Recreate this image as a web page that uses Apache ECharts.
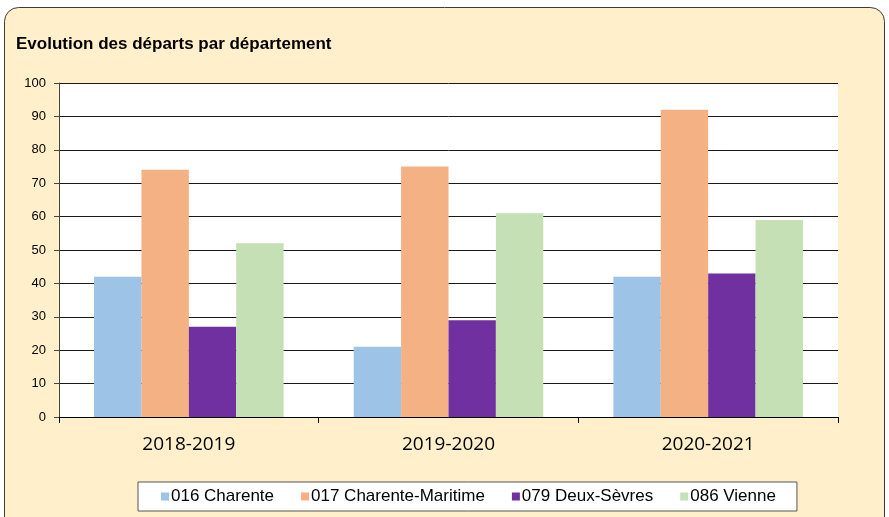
<!DOCTYPE html>
<html>
<head>
<meta charset="utf-8">
<script src="https://cdn.jsdelivr.net/npm/echarts@6/dist/echarts.min.js"></script>
<style>
  html, body { margin: 0; padding: 0; background: #ffffff; }
  #chart { width: 889px; height: 517px; }
</style>
</head>
<body>
<div id="chart"></div>
<script>
// School years shown on the x axis
const years = ['2018-2019', '2019-2020', '2020-2021'];

// Departures per department
const charente = [42, 21, 42];
const charenteMaritime = [74, 75, 92];
const deuxSevres = [27, 29, 43];
const vienne = [52, 61, 59];

const seriesNames = ['016 Charente', '017 Charente-Maritime', '079 Deux-Sèvres', '086 Vienne'];
const seriesColors = ['#9DC3E6', '#F4B183', '#7030A0', '#C5E0B4'];
const seriesValues = [charente, charenteMaritime, deuxSevres, vienne];

const chart = echarts.init(document.getElementById('chart'), null, { renderer: 'canvas' });

chart.setOption({
  backgroundColor: '#ffffff',
  animation: false,
  graphic: [{
    type: 'rect',
    z: -10,
    silent: true,
    shape: { x: 4.5, y: 7.5, width: 880, height: 530, r: 14 },
    style: { fill: '#FFF0CB', stroke: '#3a3a3a', lineWidth: 1 }
  }, {
    type: 'rect',
    z: -5,
    silent: true,
    shape: { x: 59, y: 83, width: 779, height: 334 },
    style: { fill: '#ffffff' }
  }],
  title: {
    text: 'Evolution des départs par département',
    left: 11,
    top: 31,
    textStyle: { fontFamily: 'Liberation Sans, Arial', fontSize: 17, fontWeight: 'bold', color: '#000' }
  },
  legend: {
    data: seriesNames,
    bottom: 6,
    left: 138,
    itemWidth: 8,
    itemHeight: 8,
    itemGap: 27,
    icon: 'rect',
    padding: [6, 21, 6, 23],
    backgroundColor: '#ffffff',
    borderColor: '#555',
    borderWidth: 1,
    textStyle: { fontFamily: 'Liberation Sans, Arial', fontSize: 17, color: '#000', padding: [0, 0, 0, -3] }
  },
  grid: { left: 59, top: 83, width: 779, height: 334, containLabel: false },
  xAxis: {
    type: 'category',
    data: years,
    axisLine: { lineStyle: { color: '#000', width: 1 } },
    axisTick: { show: true, length: 6, lineStyle: { color: '#000' } },
    axisLabel: { fontFamily: 'Open Sans, Carlito, sans-serif', fontSize: 19, color: '#000', margin: 18 }
  },
  yAxis: {
    type: 'value',
    min: 0,
    max: 100,
    interval: 10,
    axisLine: { show: true, lineStyle: { color: '#444', width: 1 } },
    axisTick: { show: true, length: 5, lineStyle: { color: '#444' } },
    axisLabel: { fontFamily: 'Liberation Sans, Arial', fontSize: 13, color: '#000', margin: 13 },
    splitLine: { show: true, lineStyle: { color: '#1a1a1a', width: 1 } }
  },
  series: seriesNames.map((name, i) => ({
    name: name,
    type: 'bar',
    data: seriesValues[i],
    barGap: '0%',
    barCategoryGap: '27%',
    itemStyle: { color: seriesColors[i] },
    emphasis: { disabled: true }
  }))
});
</script>
</body>
</html>
